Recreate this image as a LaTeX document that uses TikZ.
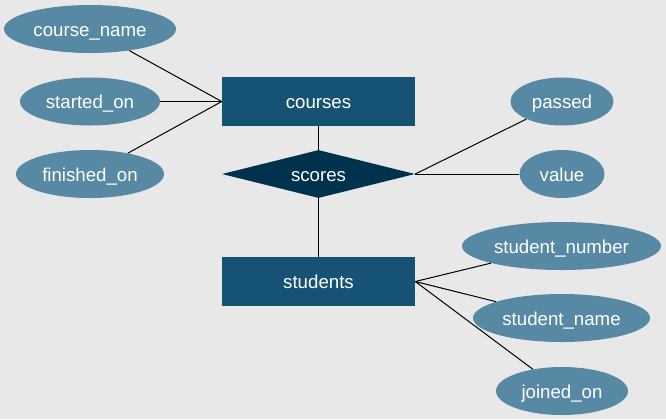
\documentclass[tikz,border=0pt]{standalone}
\usepackage{fontspec}
\setmainfont{Liberation Sans}
\usetikzlibrary{shapes.geometric}

\definecolor{bgcol}{RGB}{232,232,232}
\definecolor{entcol}{RGB}{22,82,115}
\definecolor{relcol}{RGB}{0,49,77}
\definecolor{attcol}{RGB}{88,137,164}

\tikzset{
  label text/.style={text=white, text height=10.5pt, text depth=0pt, font=\fontsize{14}{16}\selectfont},
  entity/.style={rectangle, fill=entcol, label text, inner sep=0pt, minimum width=144.75pt, minimum height=36.75pt},
  relation/.style={diamond, aspect=4, fill=relcol, label text, inner sep=0pt, minimum width=144.75pt, minimum height=36pt},
  attrib/.style={ellipse, fill=attcol, label text, inner sep=0pt, minimum height=36pt},
  link/.style={draw=black, line width=0.75pt}
}

\begin{document}
\begin{tikzpicture}[x=0.75pt,y=0.75pt,yscale=-1,xscale=1]
  %background
  \fill [bgcol] (0,0) rectangle (666,419);
  \useasboundingbox (0,0) rectangle (666,419);

  % entities and relation
  \node [entity] (courses) at (318.5,101.5) {courses};
  \node [relation] (scores) at (318.5,174) {scores};
  \node [entity] (students) at (318.5,281.5) {students};

  % attributes of courses
  \node [attrib, minimum width=129pt] (course_name) at (90,29) {course\_name};
  \node [attrib, minimum width=105pt] (started_on) at (90,101.5) {started\_on};
  \node [attrib, minimum width=111pt] (finished_on) at (90,174) {finished\_on};

  % attributes of scores
  \node [attrib, minimum width=77.25pt] (passed) at (562,101.5) {passed};
  \node [attrib, minimum width=63.75pt] (value) at (562,174) {value};

  % attributes of students
  \node [attrib, minimum width=149.25pt] (student_number) at (561.5,246) {student\_number};
  \node [attrib, minimum width=132.75pt] (student_name) at (561.5,318) {student\_name};
  \node [attrib, minimum width=99pt] (joined_on) at (562,391) {joined\_on};

  % links
  \foreach \a in {course_name,started_on,finished_on}
    \draw [link] (courses.west) -- (\a);
  \foreach \a in {passed,value}
    \draw [link] (scores.east) -- (\a);
  \foreach \a in {student_number,student_name,joined_on}
    \draw [link] (students.east) -- (\a);
  \draw [link] (courses) -- (scores);
  \draw [link] (scores) -- (students);
\end{tikzpicture}
\end{document}
